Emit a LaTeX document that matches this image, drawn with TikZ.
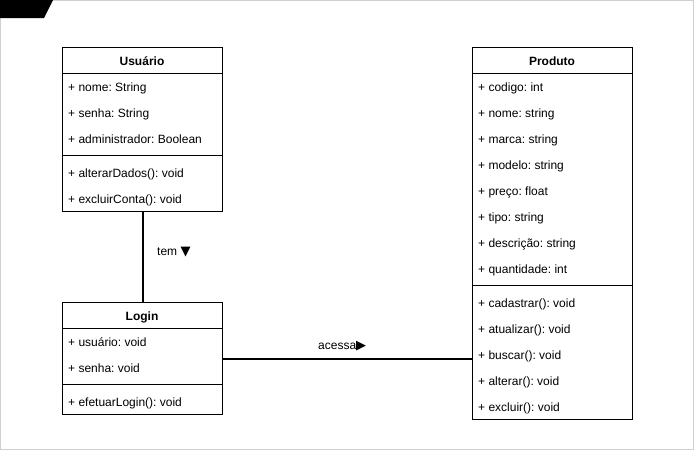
\documentclass[tikz,border=0pt]{standalone}
\usepackage{fontspec}
\setmainfont{Liberation Sans}
\newfontfamily\symfont{DejaVu Sans}
\frenchspacing
\begin{document}
\begin{tikzpicture}[x=1pt,y=-1pt,
  classbox/.style={draw=black, line width=1pt, rectangle, minimum width=160pt, anchor=north west, inner sep=0pt},
  row/.style={anchor=base west, inner sep=0pt, font=\fontsize{12}{14}\selectfont\frenchspacing},
  head/.style={anchor=base, inner sep=0pt, font=\fontsize{12}{14}\selectfont\bfseries},
  sep/.style={line width=1pt},
  conn/.style={line width=2pt},
  lbl/.style={inner sep=0pt, anchor=base west, font=\fontsize{12}{14}\selectfont}]
\useasboundingbox (0,0) rectangle (694,450);
\draw[draw={rgb,255:red,208;green,208;blue,208}, line width=1pt] (0.5,0.5) rectangle (693.5,449.5);
\fill[black] (0,0) -- (53,0) -- (44,18) -- (0,18) -- cycle;

% Usuario
\node[classbox, minimum height=164pt] (usuario) at (62,47) {};
\node[head] (usuarioT) at (142,65.5) {Usuário};
\draw[sep] (62,73) -- (222,73);
\node[row] (u1) at (68,91.5) {+ nome: String};
\node[row] (u2) at (68,117.5) {+ senha: String};
\node[row] (u3) at (68,143.5) {+ administrador: Boolean};
\draw[sep] (62,155) -- (222,155);
\node[row] (u4) at (68,177.5) {+ alterarDados(): void};
\node[row] (u5) at (68,203.5) {+ excluirConta(): void};

% Login
\node[classbox, minimum height=112pt] (login) at (62,302) {};
\node[head] (loginT) at (142,320.5) {Login};
\draw[sep] (62,328) -- (222,328);
\node[row] (l1) at (68,346.5) {+ usuário: void};
\node[row] (l2) at (68,372.5) {+ senha: void};
\draw[sep] (62,384) -- (222,384);
\node[row] (l3) at (68,406.5) {+ efetuarLogin(): void};

% Produto
\node[classbox, minimum height=372pt] (produto) at (472,47) {};
\node[head] (produtoT) at (552,65.5) {Produto};
\draw[sep] (472,73) -- (632,73);
\node[row] (p1) at (478,91.5) {+ codigo: int};
\node[row] (p2) at (478,117.5) {+ nome: string};
\node[row] (p3) at (478,143.5) {+ marca: string};
\node[row] (p4) at (478,169.5) {+ modelo: string};
\node[row] (p5) at (478,195.5) {+ preço: float};
\node[row] (p6) at (478,221.5) {+ tipo: string};
\node[row] (p7) at (478,247.5) {+ descrição: string};
\node[row] (p8) at (478,273.5) {+ quantidade: int};
\draw[sep] (472,285) -- (632,285);
\node[row] (p9) at (478,307.5) {+ cadastrar(): void};
\node[row] (p10) at (478,333.5) {+ atualizar(): void};
\node[row] (p11) at (478,359.5) {+ buscar(): void};
\node[row] (p12) at (478,385.5) {+ alterar(): void};
\node[row] (p13) at (478,411.5) {+ excluir(): void};

% connectors
\draw[conn] (usuario.south) -- (login.north);
\draw[conn] (login.east) -- (login.east -| produto.west);

\node[lbl] (tem) at (157,255.5) {tem \symfont\fontsize{13}{14}\selectfont ▼};
\node[lbl] (acessa) at (318,349.5) {acessa\symfont\fontsize{13}{14}\selectfont ▶};
\end{tikzpicture}
\end{document}
